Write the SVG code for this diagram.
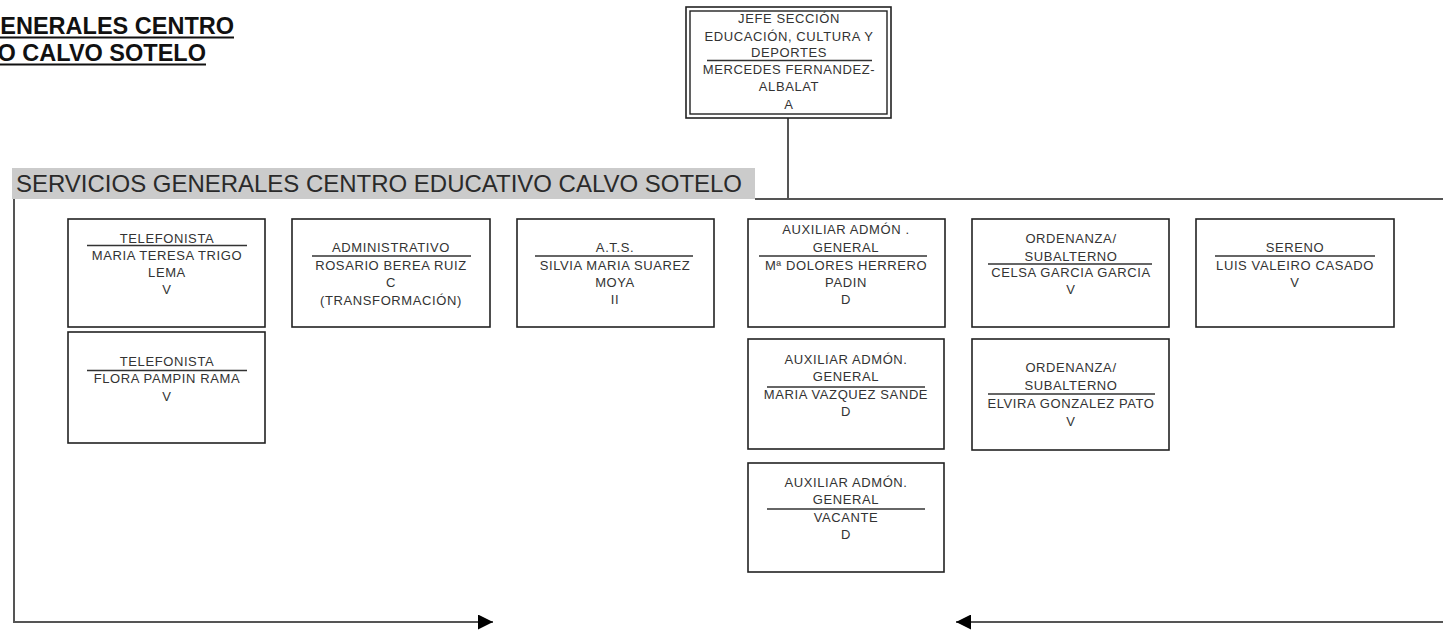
<svg xmlns="http://www.w3.org/2000/svg" width="1443" height="634" viewBox="0 0 1443 634">
<defs>
<style>
.bx{fill:#fff;stroke:#222;stroke-width:1.6}
.t{font-family:"Liberation Sans",Arial,sans-serif;font-size:13px;fill:#333;text-anchor:middle;letter-spacing:0.6px}
.sep{stroke:#333;stroke-width:1.5}
.cn{fill:none;stroke:#555;stroke-width:2}
.hd{font-family:"Liberation Sans",Arial,sans-serif;font-weight:bold;font-size:23.5px;fill:#111;text-anchor:end}
</style>
<marker id="ah" viewBox="0 0 10 10" refX="10" refY="5" markerWidth="15" markerHeight="15" markerUnits="userSpaceOnUse" orient="auto">
<path d="M0,0 L10,5 L0,10 z" fill="#000"/>
</marker>
</defs>
<rect width="1443" height="634" fill="#fff"/>

<g id="title">
<text class="hd" x="234" y="34">ENERALES CENTRO</text>
<line x1="0" y1="37.5" x2="234" y2="37.5" stroke="#111" stroke-width="2"/>
<text class="hd" x="206" y="61">O CALVO SOTELO</text>
<line x1="0" y1="64.5" x2="206" y2="64.5" stroke="#111" stroke-width="2"/>
</g>

<g id="section-header">
<rect x="12" y="168" width="743" height="31" fill="#cbcbcb"/>
<text x="16" y="192" font-family="'Liberation Sans',Arial,sans-serif" font-size="24" fill="#2a2a2a" textLength="726" lengthAdjust="spacingAndGlyphs">SERVICIOS GENERALES CENTRO EDUCATIVO CALVO SOTELO</text>
</g>

<g id="connectors">
<line class="cn" x1="788" y1="118" x2="788" y2="199"/>
<line class="cn" x1="755" y1="199" x2="1443" y2="199"/>
<line class="cn" x1="14" y1="199" x2="14" y2="622"/>
<line class="cn" x1="13" y1="622" x2="493" y2="622" marker-end="url(#ah)"/>
<line class="cn" x1="1443" y1="622" x2="956" y2="622" marker-end="url(#ah)"/>
</g>

<g id="jefe">
<rect x="686" y="7" width="205" height="111" fill="#fff" stroke="#222" stroke-width="1.6"/>
<rect x="690" y="11" width="197" height="103" fill="none" stroke="#222" stroke-width="1.4"/>
<text class="t" x="789" y="23">JEFE SECCIÓN</text>
<text class="t" x="789" y="41">EDUCACIÓN, CULTURA Y</text>
<text class="t" x="789" y="57">DEPORTES</text>
<line class="sep" x1="707" y1="60.5" x2="872" y2="60.5"/>
<text class="t" x="789" y="74">MERCEDES FERNANDEZ-</text>
<text class="t" x="789" y="91">ALBALAT</text>
<text class="t" x="789" y="109">A</text>
</g>

<g id="telefonista1">
<rect class="bx" x="68" y="219" width="197" height="108"/>
<text class="t" x="167" y="243">TELEFONISTA</text>
<line class="sep" x1="87" y1="245.5" x2="247" y2="245.5"/>
<text class="t" x="167" y="260">MARIA TERESA TRIGO</text>
<text class="t" x="167" y="277">LEMA</text>
<text class="t" x="167" y="294">V</text>
</g>

<g id="telefonista2">
<rect class="bx" x="68" y="332" width="197" height="111"/>
<text class="t" x="167" y="366">TELEFONISTA</text>
<line class="sep" x1="87" y1="370.5" x2="247" y2="370.5"/>
<text class="t" x="167" y="383">FLORA PAMPIN RAMA</text>
<text class="t" x="167" y="401">V</text>
</g>

<g id="administrativo">
<rect class="bx" x="292" y="219" width="198" height="108"/>
<text class="t" x="391" y="252">ADMINISTRATIVO</text>
<line class="sep" x1="312" y1="256" x2="471" y2="256"/>
<text class="t" x="391" y="270">ROSARIO BEREA RUIZ</text>
<text class="t" x="391" y="287">C</text>
<text class="t" x="391" y="305">(TRANSFORMACIÓN)</text>
</g>

<g id="ats">
<rect class="bx" x="517" y="219" width="197" height="108"/>
<text class="t" x="615" y="252">A.T.S.</text>
<line class="sep" x1="535" y1="256" x2="693" y2="256"/>
<text class="t" x="615" y="270">SILVIA MARIA SUAREZ</text>
<text class="t" x="615" y="287">MOYA</text>
<text class="t" x="615" y="304">II</text>
</g>

<g id="auxiliar1">
<rect class="bx" x="748" y="219" width="197" height="108"/>
<text class="t" x="846" y="234">AUXILIAR ADMÓN .</text>
<text class="t" x="846" y="252">GENERAL</text>
<line class="sep" x1="759" y1="256" x2="927" y2="256"/>
<text class="t" x="846" y="270">Mª DOLORES HERRERO</text>
<text class="t" x="846" y="287">PADIN</text>
<text class="t" x="846" y="304">D</text>
</g>

<g id="auxiliar2">
<rect class="bx" x="748" y="339" width="196" height="110"/>
<text class="t" x="846" y="364">AUXILIAR ADMÓN.</text>
<text class="t" x="846" y="381">GENERAL</text>
<line class="sep" x1="767" y1="387" x2="925" y2="387"/>
<text class="t" x="846" y="399">MARIA VAZQUEZ SANDE</text>
<text class="t" x="846" y="416">D</text>
</g>

<g id="auxiliar3">
<rect class="bx" x="748" y="463" width="196" height="109"/>
<text class="t" x="846" y="487">AUXILIAR ADMÓN.</text>
<text class="t" x="846" y="504">GENERAL</text>
<line class="sep" x1="767" y1="509" x2="925" y2="509"/>
<text class="t" x="846" y="522">VACANTE</text>
<text class="t" x="846" y="539">D</text>
</g>

<g id="ordenanza1">
<rect class="bx" x="972" y="219" width="197" height="108"/>
<text class="t" x="1071" y="243">ORDENANZA/</text>
<text class="t" x="1071" y="261">SUBALTERNO</text>
<line class="sep" x1="988" y1="264" x2="1152" y2="264"/>
<text class="t" x="1071" y="277">CELSA GARCIA GARCIA</text>
<text class="t" x="1071" y="294">V</text>
</g>

<g id="ordenanza2">
<rect class="bx" x="972" y="339" width="197" height="111"/>
<text class="t" x="1071" y="372">ORDENANZA/</text>
<text class="t" x="1071" y="390">SUBALTERNO</text>
<line class="sep" x1="988" y1="394" x2="1155" y2="394"/>
<text class="t" x="1071" y="408">ELVIRA GONZALEZ PATO</text>
<text class="t" x="1071" y="426">V</text>
</g>

<g id="sereno">
<rect class="bx" x="1196" y="219" width="198" height="108"/>
<text class="t" x="1295" y="252">SERENO</text>
<line class="sep" x1="1215" y1="256" x2="1375" y2="256"/>
<text class="t" x="1295" y="270">LUIS VALEIRO CASADO</text>
<text class="t" x="1295" y="287">V</text>
</g>
</svg>
